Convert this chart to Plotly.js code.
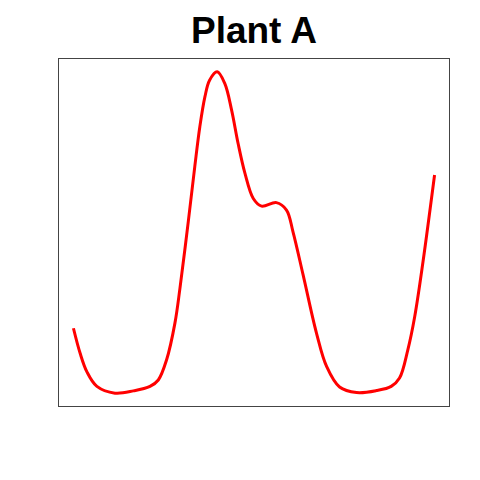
<!DOCTYPE html>
<html>
<head>
<meta charset="utf-8">
<script src="https://cdn.plot.ly/plotly-3.0.1.min.js"></script>
<style>html,body{margin:0;padding:0;background:#fff;}#chart{width:480px;height:480px;}</style>
</head>
<body>
<div id="chart"></div>
<script>
const xValues = [0, 1.85, 3.7, 6.5, 11.5, 16.6, 21.2, 23.5, 25.8, 28.1, 29.5, 31.8, 33.6, 35.0, 36.4, 37.7, 39.8, 41.9, 43.8, 45.6, 47.5, 49.8, 52.1, 56.2, 59.0, 60.8, 63.6, 67.3, 70.1, 73.7, 78.4, 83.9, 88.0, 90.3, 92.6, 94.5, 96.8, 100];
const yValues = [20.2, 12.4, 6.7, 2.1, 0, 0.7, 2.1, 4.1, 10.4, 21.8, 32.7, 53.4, 70.5, 82.9, 92.2, 97.4, 100, 96.4, 88.1, 77.7, 68.4, 60.6, 58.2, 59.3, 57.0, 50.2, 36.8, 18.7, 8.3, 1.9, 0.2, 0.8, 2.1, 4.7, 13.5, 23.8, 40.9, 67.9];
const chartTitle = "Plant A";

Plotly.newPlot('chart', [{
  x: xValues, y: yValues, type: 'scatter', mode: 'lines',
  line: {color: '#ff0000', width: 3, shape: 'spline', smoothing: 1},
  hoverinfo: 'skip'
}], {
  width: 480, height: 480,
  margin: {l: 59, r: 31, t: 59, b: 74, pad: 0},
  paper_bgcolor: '#ffffff', plot_bgcolor: '#ffffff',
  showlegend: false,
  title: {text: chartTitle, font: {family: 'Liberation Sans, Arial, sans-serif', size: 37, color: '#000', weight: 'bold'},
          x: 0.5, xref: 'paper', xanchor: 'center', y: 0.91, yref: 'container', yanchor: 'bottom'},
  xaxis: {range: [-4, 104], showgrid: false, zeroline: false, showticklabels: false, ticks: '',
          showline: true, mirror: true, linecolor: '#444', linewidth: 1},
  yaxis: {range: [-4, 104], showgrid: false, zeroline: false, showticklabels: false, ticks: '',
          showline: true, mirror: true, linecolor: '#444', linewidth: 1}
}, {staticPlot: true});
</script>
</body>
</html>
